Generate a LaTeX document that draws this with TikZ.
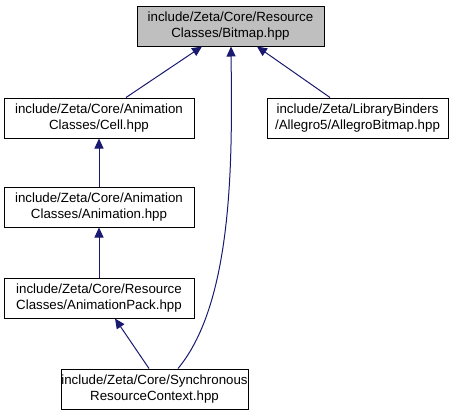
\documentclass[tikz,border=0pt]{standalone}
\usepackage{fontspec}
\setmainfont{Liberation Sans}
\usetikzlibrary{arrows.meta,calc}
\definecolor{edgeblue}{HTML}{191970}
\definecolor{hlgray}{HTML}{BFBFBF}
\begin{document}
\begin{tikzpicture}[x=1pt,y=-1pt,
  filebox/.style={draw=black,line width=1pt,fill=white,rectangle,inner sep=0pt,
    minimum height=40pt,align=center,
    font=\fontsize{13.3}{16}\selectfont},
  edge/.style={draw=edgeblue,line width=1pt,
    {Triangle[length=10pt,width=9pt]}-}]
\useasboundingbox[fill=white] (0,0) rectangle (455,416);
\node[filebox,fill=hlgray,minimum width=187pt] (bitmap) at (230.5,26)
  {include/Zeta/Core/Resource\\Classes/Bitmap.hpp};
\node[filebox,minimum width=190pt] (cell) at (99,118)
  {include/Zeta/Core/Animation\\Classes/Cell.hpp};
\node[filebox,minimum width=181pt] (allegro) at (357.5,118)
  {include/Zeta/LibraryBinders\\/Allegro5/AllegroBitmap.hpp};
\node[filebox,minimum width=190pt] (anim) at (99,207)
  {include/Zeta/Core/Animation\\Classes/Animation.hpp};
\node[filebox,minimum width=190pt] (animpack) at (99,298)
  {include/Zeta/Core/Resource\\Classes/AnimationPack.hpp};
\node[filebox,minimum width=187pt] (sync) at (154.5,389)
  {include/Zeta/Core/Synchronous\\ResourceContext.hpp};

\draw[edge] ($(bitmap.south)+(-28.5,0)$) -- ($(cell.north)+(27,0)$);
\draw[edge] ($(bitmap.south)+(26.5,0)$) -- ($(allegro.north)+(-27.5,0)$);
\draw[edge] ($(bitmap.south)+(0.5,0)$) .. controls (232,150) and (235,300) .. ($(sync.north)+(23.5,0)$);
\draw[edge] (cell.south) -- (anim.north);
\draw[edge] (anim.south) -- (animpack.north);
\draw[edge] ($(animpack.south)+(16,0)$) -- ($(sync.north)+(-5.5,0)$);
\end{tikzpicture}
\end{document}
